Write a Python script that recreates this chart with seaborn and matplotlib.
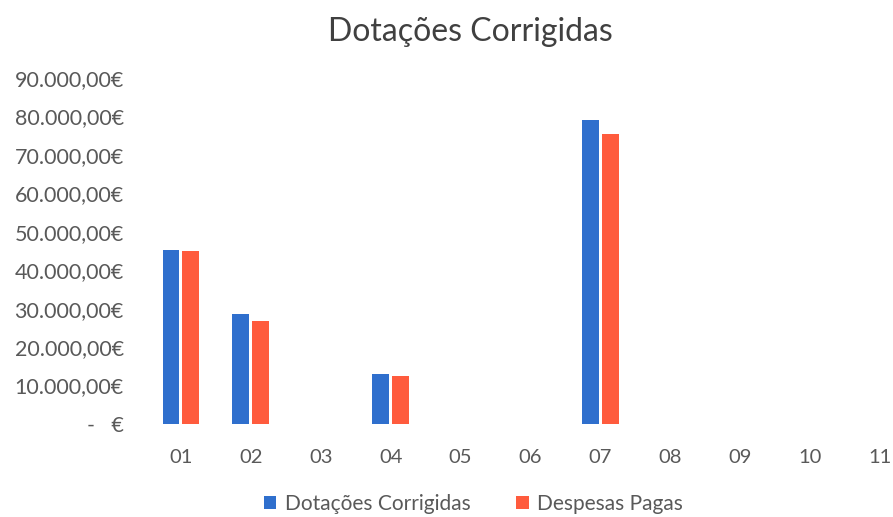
import pandas as pd
import matplotlib.pyplot as plt
import seaborn as sns
from matplotlib.ticker import FuncFormatter, MultipleLocator

# data
categorias = ["01", "02", "03", "04", "05", "06", "07", "08", "09", "10", "11"]
dotacoes = [45300, 28600, 0, 12900, 0, 0, 79000, 0, 0, 0, 0]
despesas = [44900, 26900, 0, 12500, 0, 0, 75400, 0, 0, 0, 0]
series = ["Dotações Corrigidas", "Despesas Pagas"]

df = pd.DataFrame({
    "cat": categorias * 2,
    "valor": dotacoes + despesas,
    "serie": [series[0]] * len(categorias) + [series[1]] * len(categorias),
})

sns.set_style("white")
plt.rcParams['font.family'] = ['Lato', 'DejaVu Sans']
cinza = "#595959"

fig = plt.figure(figsize=(8.93, 5.17), dpi=100)
ax = fig.add_axes([0.1635, 0.18, 0.861, 0.669])

sns.barplot(data=df, x="cat", y="valor", hue="serie", order=categorias,
            palette=["#2F6FCD", "#FF5B3D"], width=0.57, gap=0.15,
            linewidth=0, saturation=1, ax=ax)

def euro(v, pos):
    if v == 0:
        return "-   €"
    s = f"{v:,.2f}".replace(",", "X").replace(".", ",").replace("X", ".")
    return s + "€"

ax.set_ylim(0, 90000)
ax.yaxis.set_major_locator(MultipleLocator(10000))
ax.yaxis.set_major_formatter(FuncFormatter(euro))
ax.set_xlim(-0.5, 10.5)
ax.tick_params(axis="y", length=0, pad=16, labelsize=15.5, labelcolor=cinza)
ax.tick_params(axis="x", length=0, pad=18, labelsize=14.5, labelcolor=cinza)
ax.set_xlabel("")
ax.set_ylabel("")
sns.despine(ax=ax, left=True, bottom=True)

fig.text(0.527, 0.938, "Dotações Corrigidas", ha="center", va="center",
         fontsize=23, color="#404040")

h, l = ax.get_legend_handles_labels()
ax.get_legend().remove()
fig.legend(h, l, loc="lower center", bbox_to_anchor=(0.53, -0.03), ncol=2,
           frameon=False, fontsize=15, labelcolor=cinza,
           handlelength=0.6, handleheight=0.6, handletextpad=0.4,
           columnspacing=2.2)

fig.savefig("out.png", dpi=100)
